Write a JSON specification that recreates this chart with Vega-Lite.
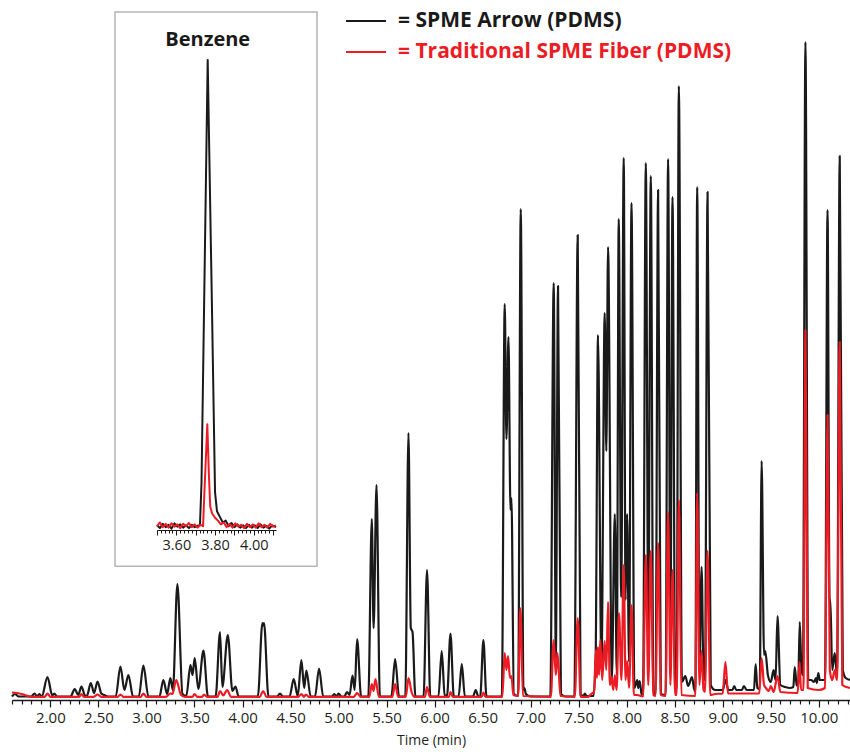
{
"$schema": "https://vega.github.io/schema/vega-lite/v6.json",
"width": 838, "height": 660,
"autosize": "none",
"padding": {"left": 12, "top": 40, "right": 0, "bottom": 54},
"config": {"view": {"stroke": null}, "font": "Open Sans"},
"datasets": {
"main": [
{"s":"Arrow","t":1.60,"v":3.5},{"s":"Arrow","t":1.63,"v":6},{"s":"Arrow","t":1.67,"v":3.5},{"s":"Arrow","t":1.80,"v":3.5},{"s":"Arrow","t":1.835,"v":6.5},{"s":"Arrow","t":1.86,"v":3.5},{"s":"Arrow","t":1.885,"v":6},{"s":"Arrow","t":1.91,"v":3.5},
{"s":"Arrow","t":1.969,"v":23},{"s":"Arrow","t":2.02,"v":4.5},{"s":"Arrow","t":2.04,"v":6.5},{"s":"Arrow","t":2.07,"v":3.5},{"s":"Arrow","t":2.21,"v":3.5},{"s":"Arrow","t":2.253,"v":11},{"s":"Arrow","t":2.29,"v":5},{"s":"Arrow","t":2.323,"v":13.5},{"s":"Arrow","t":2.36,"v":4.5},{"s":"Arrow","t":2.38,"v":4},{"s":"Arrow","t":2.42,"v":17},{"s":"Arrow","t":2.455,"v":7},{"s":"Arrow","t":2.49,"v":18.5},{"s":"Arrow","t":2.53,"v":6.5},{"s":"Arrow","t":2.56,"v":5},{"s":"Arrow","t":2.60,"v":3.5},
{"s":"Arrow","t":2.68,"v":3.5},{"s":"Arrow","t":2.729,"v":33.5},{"s":"Arrow","t":2.77,"v":10},{"s":"Arrow","t":2.812,"v":25},{"s":"Arrow","t":2.86,"v":3.5},{"s":"Arrow","t":2.92,"v":3.5},{"s":"Arrow","t":2.968,"v":34.5},{"s":"Arrow","t":3.02,"v":3.5},{"s":"Arrow","t":3.135,"v":3.5},{"s":"Arrow","t":3.176,"v":20},{"s":"Arrow","t":3.215,"v":6},{"s":"Arrow","t":3.249,"v":22},{"s":"Arrow","t":3.275,"v":10},{"s":"Arrow","t":3.322,"v":116},{"s":"Arrow","t":3.375,"v":6},{"s":"Arrow","t":3.415,"v":4},{"s":"Arrow","t":3.458,"v":35},{"s":"Arrow","t":3.48,"v":25},{"s":"Arrow","t":3.502,"v":42},{"s":"Arrow","t":3.54,"v":11},{"s":"Arrow","t":3.593,"v":49.5},{"s":"Arrow","t":3.64,"v":3.5},
{"s":"Arrow","t":3.72,"v":3.5},{"s":"Arrow","t":3.766,"v":68},{"s":"Arrow","t":3.79,"v":13},{"s":"Arrow","t":3.847,"v":65},{"s":"Arrow","t":3.895,"v":9},{"s":"Arrow","t":3.926,"v":13.5},{"s":"Arrow","t":3.96,"v":3.5},{"s":"Arrow","t":4.16,"v":3.5},{"s":"Arrow","t":4.207,"v":77},{"s":"Arrow","t":4.216,"v":74.5},{"s":"Arrow","t":4.224,"v":77},{"s":"Arrow","t":4.27,"v":3.5},{"s":"Arrow","t":4.36,"v":3.5},{"s":"Arrow","t":4.39,"v":6.5},{"s":"Arrow","t":4.42,"v":3.5},{"s":"Arrow","t":4.49,"v":3.5},{"s":"Arrow","t":4.533,"v":21},{"s":"Arrow","t":4.575,"v":4},{"s":"Arrow","t":4.613,"v":40},{"s":"Arrow","t":4.642,"v":12},{"s":"Arrow","t":4.665,"v":29.5},{"s":"Arrow","t":4.71,"v":3.5},{"s":"Arrow","t":4.755,"v":3.5},{"s":"Arrow","t":4.797,"v":31.5},{"s":"Arrow","t":4.84,"v":3.5},
{"s":"Arrow","t":4.93,"v":3.5},{"s":"Arrow","t":4.955,"v":6},{"s":"Arrow","t":4.98,"v":3.5},{"s":"Arrow","t":5.00,"v":6.5},{"s":"Arrow","t":5.03,"v":3.5},{"s":"Arrow","t":5.06,"v":3.5},{"s":"Arrow","t":5.088,"v":8},{"s":"Arrow","t":5.115,"v":5},{"s":"Arrow","t":5.145,"v":24.5},{"s":"Arrow","t":5.168,"v":10},{"s":"Arrow","t":5.193,"v":61},{"s":"Arrow","t":5.235,"v":3.5},{"s":"Arrow","t":5.31,"v":3.5},{"s":"Arrow","t":5.346,"v":181},{"s":"Arrow","t":5.365,"v":72},{"s":"Arrow","t":5.395,"v":215},{"s":"Arrow","t":5.43,"v":3.5},{"s":"Arrow","t":5.55,"v":3.5},{"s":"Arrow","t":5.589,"v":41},{"s":"Arrow","t":5.63,"v":3.5},{"s":"Arrow","t":5.695,"v":3.5},{"s":"Arrow","t":5.728,"v":267},{"s":"Arrow","t":5.752,"v":72},{"s":"Arrow","t":5.77,"v":68},{"s":"Arrow","t":5.80,"v":3.5},
{"s":"Arrow","t":5.885,"v":3.5},{"s":"Arrow","t":5.921,"v":130},{"s":"Arrow","t":5.955,"v":3.5},{"s":"Arrow","t":6.04,"v":3.5},{"s":"Arrow","t":6.074,"v":49},{"s":"Arrow","t":6.105,"v":5},{"s":"Arrow","t":6.13,"v":4},{"s":"Arrow","t":6.165,"v":66.5},{"s":"Arrow","t":6.20,"v":3.5},{"s":"Arrow","t":6.25,"v":3.5},{"s":"Arrow","t":6.283,"v":36},{"s":"Arrow","t":6.315,"v":3.5},{"s":"Arrow","t":6.40,"v":3.5},{"s":"Arrow","t":6.428,"v":10},{"s":"Arrow","t":6.455,"v":3.5},{"s":"Arrow","t":6.475,"v":3.5},{"s":"Arrow","t":6.508,"v":60},{"s":"Arrow","t":6.54,"v":3.5},
{"s":"Arrow","t":6.70,"v":3.5},{"s":"Arrow","t":6.73,"v":396},{"s":"Arrow","t":6.748,"v":261},{"s":"Arrow","t":6.769,"v":363},{"s":"Arrow","t":6.79,"v":190},{"s":"Arrow","t":6.80,"v":202},{"s":"Arrow","t":6.825,"v":6},{"s":"Arrow","t":6.87,"v":4},{"s":"Arrow","t":6.897,"v":491},{"s":"Arrow","t":6.925,"v":10},{"s":"Arrow","t":6.935,"v":12},{"s":"Arrow","t":6.95,"v":6},{"s":"Arrow","t":7.00,"v":3.5},
{"s":"Arrow","t":7.205,"v":3.5},{"s":"Arrow","t":7.24,"v":417},{"s":"Arrow","t":7.262,"v":42},{"s":"Arrow","t":7.285,"v":414},{"s":"Arrow","t":7.315,"v":6},{"s":"Arrow","t":7.36,"v":3.5},{"s":"Arrow","t":7.455,"v":3.5},{"s":"Arrow","t":7.49,"v":465},{"s":"Arrow","t":7.52,"v":5},{"s":"Arrow","t":7.55,"v":4},{"s":"Arrow","t":7.565,"v":6.5},{"s":"Arrow","t":7.58,"v":4},{"s":"Arrow","t":7.655,"v":4},{"s":"Arrow","t":7.677,"v":45},{"s":"Arrow","t":7.701,"v":365},{"s":"Arrow","t":7.737,"v":30},{"s":"Arrow","t":7.771,"v":387},{"s":"Arrow","t":7.788,"v":249},{"s":"Arrow","t":7.806,"v":453},{"s":"Arrow","t":7.845,"v":20},{"s":"Arrow","t":7.876,"v":186},{"s":"Arrow","t":7.897,"v":25},{"s":"Arrow","t":7.917,"v":481},{"s":"Arrow","t":7.943,"v":103},{"s":"Arrow","t":7.969,"v":542},{"s":"Arrow","t":7.988,"v":100},{"s":"Arrow","t":8.004,"v":186},{"s":"Arrow","t":8.025,"v":38},{"s":"Arrow","t":8.05,"v":497},{"s":"Arrow","t":8.08,"v":12},{"s":"Arrow","t":8.11,"v":20},{"s":"Arrow","t":8.12,"v":12},{"s":"Arrow","t":8.135,"v":19},{"s":"Arrow","t":8.155,"v":6},{"s":"Arrow","t":8.17,"v":4},
{"s":"Arrow","t":8.199,"v":537},{"s":"Arrow","t":8.225,"v":71},{"s":"Arrow","t":8.251,"v":524},{"s":"Arrow","t":8.278,"v":6},{"s":"Arrow","t":8.30,"v":6},{"s":"Arrow","t":8.327,"v":510},{"s":"Arrow","t":8.355,"v":6},{"s":"Arrow","t":8.405,"v":5},{"s":"Arrow","t":8.431,"v":541},{"s":"Arrow","t":8.455,"v":57},{"s":"Arrow","t":8.477,"v":503},{"s":"Arrow","t":8.505,"v":10},{"s":"Arrow","t":8.52,"v":10},{"s":"Arrow","t":8.543,"v":614},{"s":"Arrow","t":8.575,"v":18},{"s":"Arrow","t":8.61,"v":24},{"s":"Arrow","t":8.64,"v":14},{"s":"Arrow","t":8.68,"v":23},{"s":"Arrow","t":8.70,"v":12},{"s":"Arrow","t":8.715,"v":8},{"s":"Arrow","t":8.734,"v":513},{"s":"Arrow","t":8.757,"v":30},{"s":"Arrow","t":8.78,"v":133},{"s":"Arrow","t":8.80,"v":25},{"s":"Arrow","t":8.815,"v":20},{"s":"Arrow","t":8.842,"v":508},{"s":"Arrow","t":8.875,"v":15},{"s":"Arrow","t":8.92,"v":10},
{"s":"Arrow","t":9.00,"v":10},{"s":"Arrow","t":9.028,"v":20},{"s":"Arrow","t":9.06,"v":10},{"s":"Arrow","t":9.10,"v":10},{"s":"Arrow","t":9.12,"v":14},{"s":"Arrow","t":9.14,"v":10},{"s":"Arrow","t":9.20,"v":10},{"s":"Arrow","t":9.22,"v":14},{"s":"Arrow","t":9.25,"v":10},{"s":"Arrow","t":9.325,"v":10},{"s":"Arrow","t":9.343,"v":36},{"s":"Arrow","t":9.36,"v":12},{"s":"Arrow","t":9.385,"v":11},{"s":"Arrow","t":9.405,"v":239},{"s":"Arrow","t":9.43,"v":45},{"s":"Arrow","t":9.443,"v":49},{"s":"Arrow","t":9.47,"v":25},{"s":"Arrow","t":9.50,"v":18},{"s":"Arrow","t":9.53,"v":30},{"s":"Arrow","t":9.55,"v":20},{"s":"Arrow","t":9.57,"v":84},{"s":"Arrow","t":9.60,"v":15},{"s":"Arrow","t":9.65,"v":13},{"s":"Arrow","t":9.70,"v":12},{"s":"Arrow","t":9.735,"v":13},{"s":"Arrow","t":9.75,"v":33},{"s":"Arrow","t":9.77,"v":15},{"s":"Arrow","t":9.785,"v":14},{"s":"Arrow","t":9.802,"v":78},{"s":"Arrow","t":9.82,"v":30},{"s":"Arrow","t":9.835,"v":25},{"s":"Arrow","t":9.861,"v":658},{"s":"Arrow","t":9.89,"v":20},{"s":"Arrow","t":9.92,"v":20},{"s":"Arrow","t":9.95,"v":18},{"s":"Arrow","t":9.97,"v":22},{"s":"Arrow","t":9.98,"v":17},{"s":"Arrow","t":9.995,"v":27},{"s":"Arrow","t":10.01,"v":20},{"s":"Arrow","t":10.065,"v":20},{"s":"Arrow","t":10.091,"v":490},{"s":"Arrow","t":10.112,"v":100},{"s":"Arrow","t":10.12,"v":101},{"s":"Arrow","t":10.14,"v":30},{"s":"Arrow","t":10.166,"v":47},{"s":"Arrow","t":10.19,"v":25},{"s":"Arrow","t":10.218,"v":544},{"s":"Arrow","t":10.25,"v":30},{"s":"Arrow","t":10.28,"v":22},{"s":"Arrow","t":10.325,"v":20},
{"s":"Fiber","t":1.60,"v":7.5},{"s":"Fiber","t":1.65,"v":7},{"s":"Fiber","t":1.70,"v":6},{"s":"Fiber","t":1.75,"v":4.5},{"s":"Fiber","t":1.80,"v":3.2},{"s":"Fiber","t":1.94,"v":3.2},{"s":"Fiber","t":1.97,"v":6.5},{"s":"Fiber","t":2.00,"v":3.2},{"s":"Fiber","t":2.30,"v":3.2},{"s":"Fiber","t":2.323,"v":6},{"s":"Fiber","t":2.35,"v":3.2},{"s":"Fiber","t":2.45,"v":3.2},{"s":"Fiber","t":2.49,"v":5.5},{"s":"Fiber","t":2.53,"v":3.2},{"s":"Fiber","t":2.70,"v":3.2},{"s":"Fiber","t":2.73,"v":5.5},{"s":"Fiber","t":2.76,"v":3.2},{"s":"Fiber","t":2.94,"v":3.2},{"s":"Fiber","t":2.968,"v":6.5},{"s":"Fiber","t":3.00,"v":3.2},{"s":"Fiber","t":3.20,"v":3.2},{"s":"Fiber","t":3.25,"v":6.5},{"s":"Fiber","t":3.27,"v":6},{"s":"Fiber","t":3.31,"v":20},{"s":"Fiber","t":3.36,"v":5},{"s":"Fiber","t":3.40,"v":3.2},{"s":"Fiber","t":3.48,"v":3.2},{"s":"Fiber","t":3.50,"v":6},{"s":"Fiber","t":3.53,"v":3.2},{"s":"Fiber","t":3.58,"v":3.2},{"s":"Fiber","t":3.60,"v":5.5},{"s":"Fiber","t":3.63,"v":3.2},{"s":"Fiber","t":3.74,"v":3.2},{"s":"Fiber","t":3.766,"v":9},{"s":"Fiber","t":3.80,"v":4.5},{"s":"Fiber","t":3.84,"v":10},{"s":"Fiber","t":3.88,"v":3.2},{"s":"Fiber","t":4.18,"v":3.2},{"s":"Fiber","t":4.215,"v":9},{"s":"Fiber","t":4.25,"v":3.2},{"s":"Fiber","t":4.58,"v":3.2},{"s":"Fiber","t":4.613,"v":6},{"s":"Fiber","t":4.64,"v":3.2},{"s":"Fiber","t":4.66,"v":5.5},{"s":"Fiber","t":4.69,"v":3.2},
{"s":"Fiber","t":5.16,"v":3.2},{"s":"Fiber","t":5.193,"v":7},{"s":"Fiber","t":5.23,"v":3.2},{"s":"Fiber","t":5.32,"v":3.2},{"s":"Fiber","t":5.346,"v":16},{"s":"Fiber","t":5.365,"v":9},{"s":"Fiber","t":5.384,"v":21},{"s":"Fiber","t":5.42,"v":3.2},{"s":"Fiber","t":5.56,"v":3.2},{"s":"Fiber","t":5.589,"v":16},{"s":"Fiber","t":5.62,"v":3.2},{"s":"Fiber","t":5.70,"v":3.2},{"s":"Fiber","t":5.728,"v":22},{"s":"Fiber","t":5.76,"v":8},{"s":"Fiber","t":5.79,"v":3.2},{"s":"Fiber","t":5.90,"v":3.2},{"s":"Fiber","t":5.921,"v":13},{"s":"Fiber","t":5.95,"v":3.2},{"s":"Fiber","t":6.15,"v":3.2},{"s":"Fiber","t":6.165,"v":8},{"s":"Fiber","t":6.19,"v":3.2},{"s":"Fiber","t":6.49,"v":3.2},{"s":"Fiber","t":6.508,"v":7.5},{"s":"Fiber","t":6.53,"v":3.2},
{"s":"Fiber","t":6.705,"v":3.2},{"s":"Fiber","t":6.73,"v":47},{"s":"Fiber","t":6.748,"v":30},{"s":"Fiber","t":6.765,"v":44},{"s":"Fiber","t":6.785,"v":22},{"s":"Fiber","t":6.80,"v":24},{"s":"Fiber","t":6.82,"v":5},{"s":"Fiber","t":6.87,"v":4},{"s":"Fiber","t":6.893,"v":92},{"s":"Fiber","t":6.92,"v":4},{"s":"Fiber","t":7.21,"v":3.2},{"s":"Fiber","t":7.24,"v":60},{"s":"Fiber","t":7.262,"v":25},{"s":"Fiber","t":7.28,"v":47},{"s":"Fiber","t":7.31,"v":4},{"s":"Fiber","t":7.46,"v":3.2},{"s":"Fiber","t":7.49,"v":82},{"s":"Fiber","t":7.52,"v":3.2},{"s":"Fiber","t":7.60,"v":3.2},{"s":"Fiber","t":7.63,"v":6},{"s":"Fiber","t":7.66,"v":8},{"s":"Fiber","t":7.68,"v":50},{"s":"Fiber","t":7.69,"v":22},{"s":"Fiber","t":7.70,"v":53},{"s":"Fiber","t":7.712,"v":25},{"s":"Fiber","t":7.725,"v":60},{"s":"Fiber","t":7.745,"v":20},{"s":"Fiber","t":7.77,"v":59},{"s":"Fiber","t":7.788,"v":30},{"s":"Fiber","t":7.806,"v":98},{"s":"Fiber","t":7.825,"v":15},{"s":"Fiber","t":7.84,"v":23},{"s":"Fiber","t":7.86,"v":10},{"s":"Fiber","t":7.876,"v":25},{"s":"Fiber","t":7.895,"v":10},{"s":"Fiber","t":7.92,"v":87},{"s":"Fiber","t":7.945,"v":20},{"s":"Fiber","t":7.969,"v":135},{"s":"Fiber","t":7.988,"v":20},{"s":"Fiber","t":8.004,"v":39},{"s":"Fiber","t":8.025,"v":12},{"s":"Fiber","t":8.05,"v":95},{"s":"Fiber","t":8.075,"v":5},{"s":"Fiber","t":8.11,"v":5},{"s":"Fiber","t":8.17,"v":3.5},{"s":"Fiber","t":8.199,"v":145},{"s":"Fiber","t":8.225,"v":15},{"s":"Fiber","t":8.25,"v":149},{"s":"Fiber","t":8.278,"v":5},{"s":"Fiber","t":8.30,"v":4},{"s":"Fiber","t":8.327,"v":157},{"s":"Fiber","t":8.355,"v":5},{"s":"Fiber","t":8.405,"v":4},{"s":"Fiber","t":8.431,"v":188},{"s":"Fiber","t":8.455,"v":15},{"s":"Fiber","t":8.477,"v":130},{"s":"Fiber","t":8.505,"v":5},{"s":"Fiber","t":8.52,"v":5},{"s":"Fiber","t":8.543,"v":200},{"s":"Fiber","t":8.57,"v":5},{"s":"Fiber","t":8.715,"v":4},{"s":"Fiber","t":8.734,"v":207},{"s":"Fiber","t":8.757,"v":15},{"s":"Fiber","t":8.78,"v":49},{"s":"Fiber","t":8.80,"v":10},{"s":"Fiber","t":8.815,"v":8},{"s":"Fiber","t":8.842,"v":149},{"s":"Fiber","t":8.87,"v":5},{"s":"Fiber","t":8.92,"v":6},
{"s":"Fiber","t":9.00,"v":6.5},{"s":"Fiber","t":9.028,"v":38},{"s":"Fiber","t":9.055,"v":6.5},{"s":"Fiber","t":9.38,"v":6.5},{"s":"Fiber","t":9.405,"v":42},{"s":"Fiber","t":9.43,"v":15},{"s":"Fiber","t":9.45,"v":12},{"s":"Fiber","t":9.48,"v":9},{"s":"Fiber","t":9.50,"v":14},{"s":"Fiber","t":9.53,"v":8},{"s":"Fiber","t":9.57,"v":24},{"s":"Fiber","t":9.60,"v":8},{"s":"Fiber","t":9.78,"v":7},{"s":"Fiber","t":9.80,"v":38},{"s":"Fiber","t":9.815,"v":10},{"s":"Fiber","t":9.84,"v":10},{"s":"Fiber","t":9.861,"v":370},{"s":"Fiber","t":9.885,"v":12},{"s":"Fiber","t":10.00,"v":10},{"s":"Fiber","t":10.065,"v":12},{"s":"Fiber","t":10.091,"v":285},{"s":"Fiber","t":10.115,"v":30},{"s":"Fiber","t":10.14,"v":20},{"s":"Fiber","t":10.166,"v":30},{"s":"Fiber","t":10.19,"v":20},{"s":"Fiber","t":10.218,"v":358},{"s":"Fiber","t":10.245,"v":15},{"s":"Fiber","t":10.325,"v":12}
],
"inset": [
{"s":"Arrow","t":3.50,"v":1.0},{"s":"Arrow","t":3.515,"v":0.4},{"s":"Arrow","t":3.53,"v":1.3},{"s":"Arrow","t":3.545,"v":0.6},{"s":"Arrow","t":3.56,"v":1.1},{"s":"Arrow","t":3.575,"v":0.3},{"s":"Arrow","t":3.59,"v":1.4},{"s":"Arrow","t":3.605,"v":0.7},{"s":"Arrow","t":3.62,"v":1.2},{"s":"Arrow","t":3.635,"v":0.5},{"s":"Arrow","t":3.65,"v":1.0},{"s":"Arrow","t":3.665,"v":0.4},{"s":"Arrow","t":3.68,"v":1.1},{"s":"Arrow","t":3.695,"v":0.6},{"s":"Arrow","t":3.71,"v":0.9},{"s":"Arrow","t":3.722,"v":1.0},{"s":"Arrow","t":3.73,"v":10},{"s":"Arrow","t":3.762,"v":100},{"s":"Arrow","t":3.785,"v":45},{"s":"Arrow","t":3.80,"v":8},{"s":"Arrow","t":3.81,"v":4},{"s":"Arrow","t":3.825,"v":2.8},{"s":"Arrow","t":3.84,"v":1.6},{"s":"Arrow","t":3.855,"v":2.0},{"s":"Arrow","t":3.87,"v":0.8},{"s":"Arrow","t":3.885,"v":1.5},{"s":"Arrow","t":3.90,"v":0.6},{"s":"Arrow","t":3.915,"v":1.2},{"s":"Arrow","t":3.93,"v":0.5},{"s":"Arrow","t":3.945,"v":1.0},{"s":"Arrow","t":3.96,"v":0.4},{"s":"Arrow","t":3.975,"v":1.1},{"s":"Arrow","t":3.99,"v":0.5},{"s":"Arrow","t":4.005,"v":1.0},{"s":"Arrow","t":4.02,"v":0.4},{"s":"Arrow","t":4.035,"v":1.2},{"s":"Arrow","t":4.05,"v":0.5},{"s":"Arrow","t":4.065,"v":0.9},{"s":"Arrow","t":4.08,"v":0.3},{"s":"Arrow","t":4.095,"v":1.0},{"s":"Arrow","t":4.115,"v":0.6},
{"s":"Fiber","t":3.50,"v":0.8},{"s":"Fiber","t":3.515,"v":1.6},{"s":"Fiber","t":3.53,"v":0.6},{"s":"Fiber","t":3.545,"v":1.3},{"s":"Fiber","t":3.56,"v":0.5},{"s":"Fiber","t":3.575,"v":1.4},{"s":"Fiber","t":3.59,"v":0.7},{"s":"Fiber","t":3.605,"v":1.2},{"s":"Fiber","t":3.62,"v":0.4},{"s":"Fiber","t":3.635,"v":1.3},{"s":"Fiber","t":3.65,"v":0.8},{"s":"Fiber","t":3.665,"v":1.5},{"s":"Fiber","t":3.68,"v":0.6},{"s":"Fiber","t":3.695,"v":1.2},{"s":"Fiber","t":3.71,"v":0.5},{"s":"Fiber","t":3.725,"v":1.1},{"s":"Fiber","t":3.738,"v":0.8},{"s":"Fiber","t":3.745,"v":8},{"s":"Fiber","t":3.76,"v":22.5},{"s":"Fiber","t":3.768,"v":12},{"s":"Fiber","t":3.775,"v":5},{"s":"Fiber","t":3.785,"v":3.5},{"s":"Fiber","t":3.80,"v":2.6},{"s":"Fiber","t":3.815,"v":2.0},{"s":"Fiber","t":3.83,"v":1.2},{"s":"Fiber","t":3.845,"v":1.6},{"s":"Fiber","t":3.86,"v":0.6},{"s":"Fiber","t":3.875,"v":1.3},{"s":"Fiber","t":3.89,"v":0.5},{"s":"Fiber","t":3.905,"v":1.4},{"s":"Fiber","t":3.92,"v":0.7},{"s":"Fiber","t":3.935,"v":1.1},{"s":"Fiber","t":3.95,"v":0.4},{"s":"Fiber","t":3.965,"v":1.3},{"s":"Fiber","t":3.98,"v":0.6},{"s":"Fiber","t":3.995,"v":1.2},{"s":"Fiber","t":4.01,"v":0.5},{"s":"Fiber","t":4.025,"v":1.4},{"s":"Fiber","t":4.04,"v":0.6},{"s":"Fiber","t":4.055,"v":1.1},{"s":"Fiber","t":4.07,"v":0.5},{"s":"Fiber","t":4.085,"v":1.3},{"s":"Fiber","t":4.10,"v":0.7},{"s":"Fiber","t":4.115,"v":1.0}
]
},
"layer": [
{
"data": {"values": [{}]},
"mark": {"type": "rect", "fill": "white", "stroke": "#b5b5b5", "strokeWidth": 1.5},
"encoding": {
"x": {"datum": 3.283, "type": "quantitative", "scale": {"domain": [3.5, 4.115], "range": [145, 264], "nice": false, "zero": false}, "axis": null},
"x2": {"datum": 4.327},
"y": {"datum": 110.2, "type": "quantitative", "scale": {"domain": [0, 100], "range": [490, 20], "nice": false, "zero": false}, "axis": null},
"y2": {"datum": -7.7}
}
},
{
"data": {"name": "main"},
"mark": {"type": "line", "interpolate": "monotone", "strokeWidth": 2.2, "strokeJoin": "round"},
"encoding": {
"x": {"field": "t", "type": "quantitative",
 "scale": {"domain": [1.6, 10.325], "nice": false, "zero": false},
 "axis": {"orient": "bottom", "values": [1.6,1.7,1.8,1.9,2.0,2.1,2.2,2.3,2.4,2.5,2.6,2.7,2.8,2.9,3.0,3.1,3.2,3.3,3.4,3.5,3.6,3.7,3.8,3.9,4.0,4.1,4.2,4.3,4.4,4.5,4.6,4.7,4.8,4.9,5.0,5.1,5.2,5.3,5.4,5.5,5.6,5.7,5.8,5.9,6.0,6.1,6.2,6.3,6.4,6.5,6.6,6.7,6.8,6.9,7.0,7.1,7.2,7.3,7.4,7.5,7.6,7.7,7.8,7.9,8.0,8.1,8.2,8.3,8.4,8.5,8.6,8.7,8.8,8.9,9.0,9.1,9.2,9.3,9.4,9.5,9.6,9.7,9.8,9.9,10.0,10.1,10.2,10.3],
  "labelExpr": "abs(datum.value*2 - round(datum.value*2)) < 0.01 ? format(datum.value, '.2f') : ''",
  "tickSize": {"condition": {"test": "abs(datum.value*2 - round(datum.value*2)) < 0.01", "value": 7}, "value": 4},
  "domainColor": "#1a1a1a", "domainWidth": 1.3, "tickColor": "#1a1a1a", "tickWidth": 1.2,
  "labelFont": "Open Sans", "labelFontSize": 15, "labelColor": "#231f20", "labelPadding": 3, "labelOverlap": false, "labelFlush": false,
  "title": "Time (min)", "titleFont": "Open Sans", "titleFontSize": 14, "titleFontWeight": "normal", "titleColor": "#231f20", "titlePadding": 8,
  "grid": false}},
"y": {"field": "v", "type": "quantitative", "scale": {"domain": [0, 660], "nice": false}, "axis": null},
"color": {"field": "s", "type": "nominal",
 "scale": {"domain": ["Arrow", "Fiber"], "range": ["#1a1a1a", "#ed1c24"]},
 "legend": {"orient": "none", "legendX": 333, "legendY": -40, "title": null, "direction": "vertical",
  "symbolType": "stroke", "symbolSize": 1600, "symbolStrokeWidth": 2,
  "labelFont": "Open Sans", "labelFontWeight": "bold", "labelFontSize": 21, "labelOffset": 11, "rowPadding": -8, "labelLimit": 500, "padding": 0,
  "labelExpr": "datum.value == 'Arrow' ? '= SPME Arrow (PDMS)' : '= Traditional SPME Fiber (PDMS)'",
  "encode": {"labels": {"update": {"fill": {"signal": "datum.value == 'Arrow' ? '#1a1a1a' : '#ed1c24'"}}}}}}
}
},
{
"data": {"name": "inset"},
"mark": {"type": "line", "strokeWidth": 2, "strokeJoin": "round"},
"encoding": {
"x": {"field": "t", "type": "quantitative",
 "scale": {"domain": [3.5, 4.115], "range": [145, 264], "nice": false, "zero": false},
 "axis": {"orient": "bottom", "offset": -170, "zindex": 2,
  "values": [3.5,3.52,3.54,3.56,3.58,3.6,3.62,3.64,3.66,3.68,3.7,3.72,3.74,3.76,3.78,3.8,3.82,3.84,3.86,3.88,3.9,3.92,3.94,3.96,3.98,4.0,4.02,4.04,4.06,4.08,4.1],
  "labelExpr": "indexof(['3.60','3.80','4.00'], format(datum.value, '.2f')) >= 0 ? format(datum.value, '.2f') : ''",
  "tickSize": {"condition": {"test": "abs(datum.value*10 - round(datum.value*10)) < 0.01", "value": 5}, "value": 3},
  "domainColor": "#1a1a1a", "domainWidth": 1.2, "tickColor": "#1a1a1a", "tickWidth": 1,
  "labelFont": "Open Sans", "labelFontSize": 14.5, "labelColor": "#231f20", "labelPadding": 3, "labelOverlap": false, "labelFlush": false,
  "title": null, "grid": false}},
"y": {"field": "v", "type": "quantitative", "scale": {"domain": [0, 100], "range": [490, 20], "nice": false, "zero": false}, "axis": null},
"color": {"field": "s", "type": "nominal", "legend": null}
}
},
{
"data": {"values": [{}]},
"mark": {"type": "text", "text": "Benzene", "font": "Open Sans", "fontSize": 20, "fontWeight": "bold", "color": "#1a1a1a", "align": "center", "baseline": "middle"},
"encoding": {
"x": {"datum": 3.762, "type": "quantitative", "scale": {"domain": [3.5, 4.115], "range": [145, 264], "nice": false, "zero": false}, "axis": null},
"y": {"datum": 104.3, "type": "quantitative", "scale": {"domain": [0, 100], "range": [490, 20], "nice": false, "zero": false}, "axis": null}
}
}
],
"resolve": {"scale": {"x": "independent", "y": "independent"}}
}
